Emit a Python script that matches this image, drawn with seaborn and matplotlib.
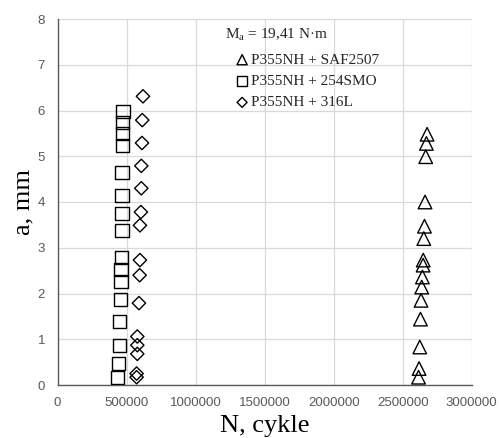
import numpy as np
import pandas as pd
import matplotlib
matplotlib.use("Agg")
import matplotlib.pyplot as plt
import seaborn as sns

# ---- data ----
saf_n = [2677000, 2672000, 2667000, 2662000, 2658000, 2653000, 2649000, 2648000,
         2643000, 2638000, 2633000, 2629000, 2624000, 2619000, 2615000]
saf_a = [5.48, 5.28, 4.99, 4.00, 3.47, 3.20, 2.73, 2.62, 2.36, 2.14, 1.85, 1.44, 0.83, 0.36, 0.17]

smo_n = [474000, 472000, 470000, 470000, 467000, 467000, 467000, 467000,
         462000, 460000, 460000, 456000, 452000, 447000, 440000, 434000]
smo_a = [5.97, 5.73, 5.50, 5.24, 4.65, 4.15, 3.75, 3.38, 2.79, 2.52, 2.27, 1.87, 1.38, 0.87, 0.47, 0.17]

l316_n = [619000, 614000, 612000, 607000, 607000, 604000, 597000, 597000,
          595000, 590000, 578000, 578000, 578000, 573000, 573000]
l316_a = [6.31, 5.79, 5.29, 4.79, 4.30, 3.78, 3.49, 2.73, 2.40, 1.79, 1.06, 0.87, 0.68, 0.25, 0.17]

series_labels = ["P355NH + SAF2507", "P355NH + 254SMO", "P355NH + 316L"]
annotation = "M$_{\\mathregular{a}}$ = 19,41 N·m"
x_ticks = [0, 500000, 1000000, 1500000, 2000000, 2500000, 3000000]
y_ticks = [0, 1, 2, 3, 4, 5, 6, 7, 8]
x_label = "N, cykle"
y_label = "a, mm"

df = pd.concat([
    pd.DataFrame({"N": saf_n, "a": saf_a, "series": series_labels[0]}),
    pd.DataFrame({"N": smo_n, "a": smo_a, "series": series_labels[1]}),
    pd.DataFrame({"N": l316_n, "a": l316_a, "series": series_labels[2]}),
], ignore_index=True)

sns.set_theme(style="white")
plt.rcParams["font.family"] = ["Liberation Serif", "DejaVu Serif"]
plt.rcParams["mathtext.fontset"] = "custom"
plt.rcParams["mathtext.rm"] = "Liberation Serif"

W, H = 499, 438
fig = plt.figure(figsize=(W / 100, H / 100), dpi=100)
ax = fig.add_axes([57.5 / W, 1 - 385 / H, (471.7 - 57.5) / W, (385 - 19) / H])

styles = {
    series_labels[0]: dict(marker="^", s=95),
    series_labels[1]: dict(marker="s", s=90),
    series_labels[2]: dict(marker="D", s=46),
}
for lab in series_labels:
    sub = df[df["series"] == lab]
    sns.scatterplot(data=sub, x="N", y="a", ax=ax, marker=styles[lab]["marker"],
                    s=styles[lab]["s"], facecolor="none", edgecolor="black",
                    linewidth=1.0, label=lab, zorder=3)

ax.set_xlim(0, 3000000)
ax.set_ylim(0, 8)
ax.set_xticks(x_ticks)
ax.set_yticks(y_ticks)
ax.set_xticklabels([str(v) for v in x_ticks])
ax.set_yticklabels([str(v) for v in y_ticks])
ax.grid(True, color="#d9d9d9", linewidth=0.9)
ax.set_axisbelow(True)
for side in ["top", "right"]:
    ax.spines[side].set_visible(False)
for side in ["left", "bottom"]:
    ax.spines[side].set_color("#595959")
    ax.spines[side].set_linewidth(1.0)
ax.tick_params(axis="both", length=0, colors="#595959", labelsize=9.5, pad=9)
for t in ax.get_xticklabels() + ax.get_yticklabels():
    t.set_fontfamily(["Liberation Sans", "DejaVu Sans"])

ax.set_xlabel(x_label, fontsize=19, color="black", labelpad=4)
ax.set_ylabel(y_label, fontsize=19, color="black", labelpad=2)

leg = ax.legend(loc="upper left", bbox_to_anchor=(236 / W, 1 - 53 / H),
                bbox_transform=fig.transFigure, frameon=False, fontsize=11,
                handlelength=0.8, handletextpad=0.15, labelspacing=0.5,
                borderpad=0, borderaxespad=0, markerscale=0.75)
fig.text(225 / W, 1 - 35 / H, annotation, fontsize=11, va="center", ha="left")

fig.savefig("out.png", dpi=100)
